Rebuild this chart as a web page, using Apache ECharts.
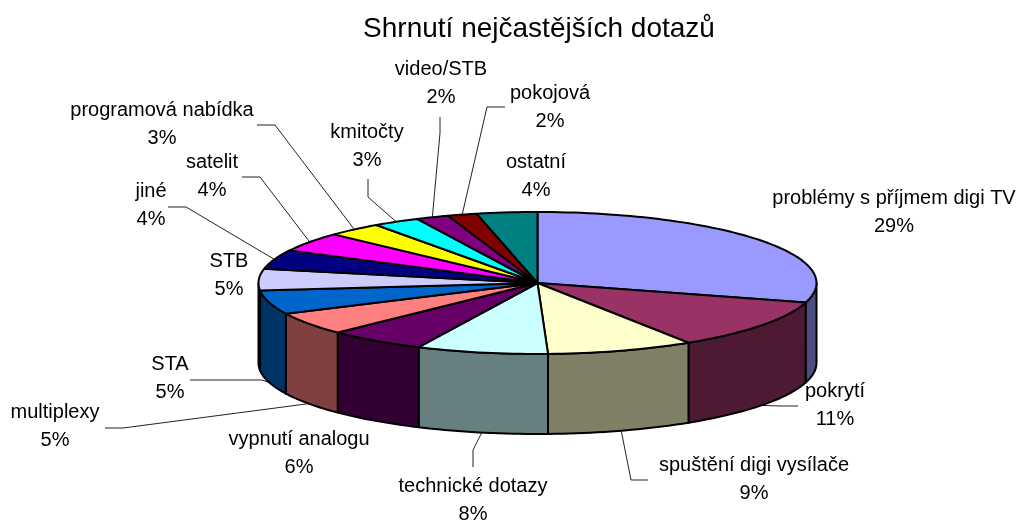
<!DOCTYPE html>
<html>
<head>
<meta charset="utf-8">
<style>html,body{margin:0;padding:0;background:#fff}#c{width:1019px;height:520px}</style>
<script src="https://cdn.jsdelivr.net/npm/echarts@6/dist/echarts.min.js"></script>
</head>
<body>
<div id="c"></div>
<script>
// data
const categories = ['problémy s příjmem digi TV','pokrytí','spuštění digi vysílače','technické dotazy','vypnutí analogu','multiplexy','STA','STB','jiné','satelit','programová nabídka','kmitočty','video/STB','pokojová','ostatní'];
const shares = [29.45,11.45,8.5,7.6,5.7,5.2,5.4,4.9,4.4,4.4,3.2,2.7,1.9,1.7,3.5];
const topColors = ['#9999FF','#993366','#FFFFCC','#CCFFFF','#660066','#FF8080','#0066CC','#CCCCFF','#000080','#FF00FF','#FFFF00','#00FFFF','#800080','#800000','#008080'];
const sideColors = ['#4D4D80','#4D1933','#808066','#668080','#330033','#804040','#003366','#666680','#000040','#800080','#808000','#008080','#400040','#400000','#004040'];

// layout of the pie projection
const CX = 537.5, CY = 283, RX = 279, RY = 71, DEPTH = 80;
// label centre (x, first line y) and leader-line bend points, by slice
const labelPos = [[894,197],[835,390],[754,464],[473,485],[299,438],[55,411],[170,363],[229,260],[151,190],[212,161],[162,109],[367,131],[441,68],[550,92],[536,161]];
const leaders = [null,[[780,406],[798,406]],[[631,480],[648,480]],[[473,450],[473,467]],null,[[123,428],[105,428]],[[262,380],[190,380]],null,[[186,207],[168,207]],[[260,177],[242,177]],[[275,125],[257,125]],[[368,197],[368,179]],[[440,133],[440,117]],[[487,107],[505,107]],null];

const total = shares.reduce((a,b)=>a+b,0);
let run = 0;
const rows = shares.map((v,i)=>{ const s = run; run += v; return [s/total*360, run/total*360, i]; });
const rad = d => d*Math.PI/180;
const pt = (deg, drop) => [CX + RX*Math.sin(rad(deg)), CY - RY*Math.cos(rad(deg)) + (drop||0)];
function arc(a0, a1, drop){ const n = Math.max(2, Math.ceil(Math.abs(a1-a0)/1.5)); const out=[]; for(let k=0;k<=n;k++) out.push(pt(a0+(a1-a0)*k/n, drop)); return out; }

const renderSide = (p, api) => {
  const a0 = Math.max(api.value(0), 90), a1 = Math.min(api.value(1), 270);
  if (a1 <= a0) return { type:'group', children:[] };
  const poly = arc(a0,a1,0).concat(arc(a1,a0,DEPTH));
  return { type:'polygon', shape:{points:poly}, style:{fill:sideColors[p.dataIndex], stroke:'#000', lineWidth:2, lineJoin:'round'} };
};
const renderTop = (p, api) => {
  const poly = [[CX,CY]].concat(arc(api.value(0),api.value(1),0));
  return { type:'polygon', shape:{points:poly}, style:{fill:topColors[p.dataIndex], stroke:'#000', lineWidth:2, lineJoin:'round'} };
};
const renderLabel = (p, api) => {
  const i = p.dataIndex, mid = (api.value(0)+api.value(1))/2;
  const front = mid>90 && mid<270;
  const children = [];
  if (leaders[i]) {
    children.push({ type:'polyline', shape:{points:[pt(mid, front?DEPTH:0)].concat(leaders[i])}, style:{fill:null, stroke:'#222', lineWidth:1} });
  }
  children.push({ type:'text', style:{ x:labelPos[i][0], y:labelPos[i][1]-13.25, text:categories[i]+'\n'+Math.round(shares[i])+'%', textAlign:'center', textVerticalAlign:'top', font:'20px "Liberation Sans", Arial, sans-serif', lineHeight:28.5, fill:'#000' } });
  return { type:'group', children };
};
const mk = (render, name) => ({ type:'custom', name, coordinateSystem:'none', renderItem:render, data:rows, silent:true, animation:false, clip:false });

const chart = echarts.init(document.getElementById('c'), null, {renderer:'canvas'});
chart.setOption({
  animation:false,
  backgroundColor:'#fff',
  title:{ text:'Shrnutí nejčastějších dotazů', left:534, top:10, textAlign:'center', textStyle:{ fontFamily:'"Liberation Sans", Arial, sans-serif', fontSize:28, fontWeight:'normal', color:'#000' } },
  series:[ mk(renderLabel,'popisky'), mk(renderSide,'boky'), mk(renderTop,'výseče') ]
});
</script>
</body>
</html>
